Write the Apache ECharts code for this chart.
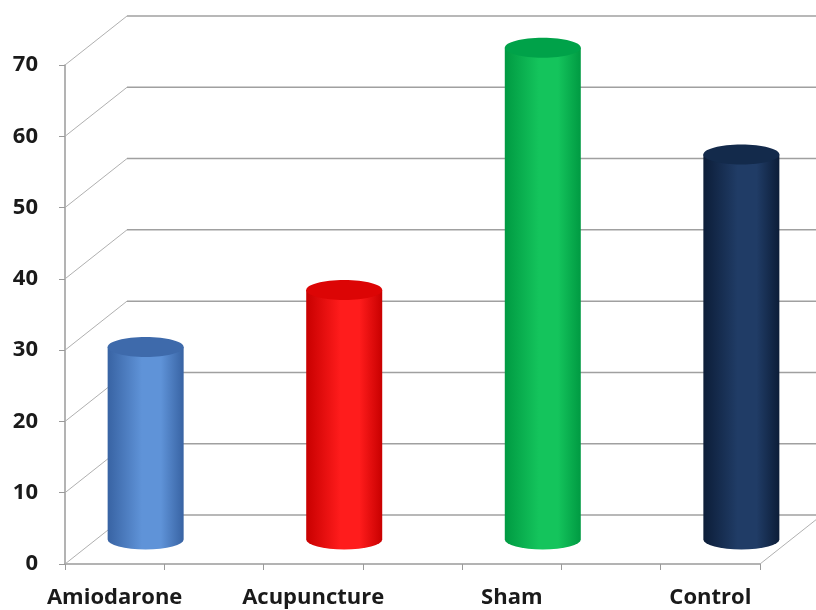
<!DOCTYPE html>
<html>
<head>
<meta charset="utf-8">
<script src="https://cdn.jsdelivr.net/npm/echarts@6/dist/echarts.min.js"></script>
<style>
  html, body { margin: 0; padding: 0; background: #fff; }
  #chart { width: 816px; height: 610px; }
</style>
</head>
<body>
<div id="chart"></div>
<script>
// 数据
const categories = ['Amiodarone', 'Acupuncture', 'Sham', 'Control'];
const values = [27, 35, 69, 54];
const yTicks = [0, 10, 20, 30, 40, 50, 60, 70];

// 每根柱子的渐变：边缘、中间、顶部
const barColors = [
  { edge: '#3863a3', mid: '#5f93d8', top: '#3e6aab' },
  { edge: '#c80000', mid: '#ff1c1c', top: '#dc0505' },
  { edge: '#009a42', mid: '#14c45c', top: '#00a249' },
  { edge: '#0c1d38', mid: '#203c66', top: '#132a4b' }
];

// 3D 深度偏移
const DX = 62, DY = -49;

// 每个类别占两个格子，标签在偶数格
const slots = [];
categories.forEach(function (c, i) {
  slots.push(c);
  if (i < categories.length - 1) slots.push('');
});

const myChart = echarts.init(document.getElementById('chart'));

const option = {
  backgroundColor: '#fff',
  animation: false,
  grid: { left: 65, right: 56, top: 65, bottom: 46 },
  xAxis: {
    type: 'category',
    data: slots,
    boundaryGap: true,
    axisLine: { lineStyle: { color: '#9a9a9a', width: 1.5 } },
    axisTick: { show: true, interval: 0, length: 6, lineStyle: { color: '#9a9a9a' } },
    axisLabel: {
      interval: 0,
      margin: 23,
      color: '#1a1a1a',
      fontFamily: 'Open Sans',
      fontWeight: 'bold',
      fontSize: 22
    },
    splitLine: { show: false }
  },
  yAxis: {
    type: 'value',
    min: 0,
    max: 70,
    interval: 10,
    axisLine: { show: true, lineStyle: { color: '#9a9a9a', width: 1.5 } },
    axisTick: { show: true, length: 6, lineStyle: { color: '#9a9a9a' } },
    axisLabel: {
      margin: 27,
      color: '#1a1a1a',
      fontFamily: 'Open Sans',
      fontWeight: 'bold',
      fontSize: 22
    },
    splitLine: { show: false }
  },
  series: [
    {
      // 墙面网格线
      type: 'custom',
      z: 1,
      silent: true,
      data: yTicks.map(function (v) { return [0, v]; }),
      renderItem: function (params, api) {
        const cs = params.coordSys;
        const y = api.coord([0, api.value(1)])[1];
        const x0 = cs.x;
        const children = [
          {
            type: 'line',
            shape: { x1: x0, y1: y, x2: x0 + DX, y2: y + DY },
            style: { stroke: '#b0b0b0', lineWidth: 1 }
          },
          {
            type: 'line',
            shape: { x1: x0 + DX, y1: y + DY, x2: cs.x + cs.width + DX + 40, y2: y + DY },
            style: { stroke: '#a0a0a0', lineWidth: 1.5 }
          }
        ];
        if (api.value(1) === 0) {
          children.push({
            type: 'line',
            shape: { x1: cs.x + cs.width, y1: y, x2: cs.x + cs.width + DX, y2: y + DY },
            style: { stroke: '#b0b0b0', lineWidth: 1 }
          });
        }
        return { type: 'group', children: children };
      }
    },
    {
      // 圆柱
      type: 'custom',
      z: 2,
      data: values.map(function (v, i) { return [i * 2, v, i]; }),
      renderItem: function (params, api) {
        const idx = api.value(0);
        const base = api.coord([idx, 0]);
        const top = api.coord([idx, api.value(1)]);
        const c = barColors[api.value(2)];
        const cx = base[0] + DX / 2;
        const yb = base[1] + DY / 2;
        const yt = top[1] + DY / 2;
        const R = 38, RY = 10;
        const body = 'M' + (cx - R) + ',' + yt +
          ' L' + (cx - R) + ',' + yb +
          ' A' + R + ',' + RY + ' 0 0 0 ' + (cx + R) + ',' + yb +
          ' L' + (cx + R) + ',' + yt + ' Z';
        return {
          type: 'group',
          children: [
            {
              type: 'path',
              shape: { pathData: body },
              style: {
                fill: {
                  type: 'linear', x: 0, y: 0, x2: 1, y2: 0,
                  colorStops: [
                    { offset: 0, color: c.edge },
                    { offset: 0.45, color: c.mid },
                    { offset: 0.7, color: c.mid },
                    { offset: 1, color: c.edge }
                  ]
                }
              }
            },
            {
              type: 'ellipse',
              shape: { cx: cx, cy: yt, rx: R, ry: RY },
              style: { fill: c.top }
            }
          ]
        };
      }
    }
  ]
};

myChart.setOption(option);
</script>
</body>
</html>
